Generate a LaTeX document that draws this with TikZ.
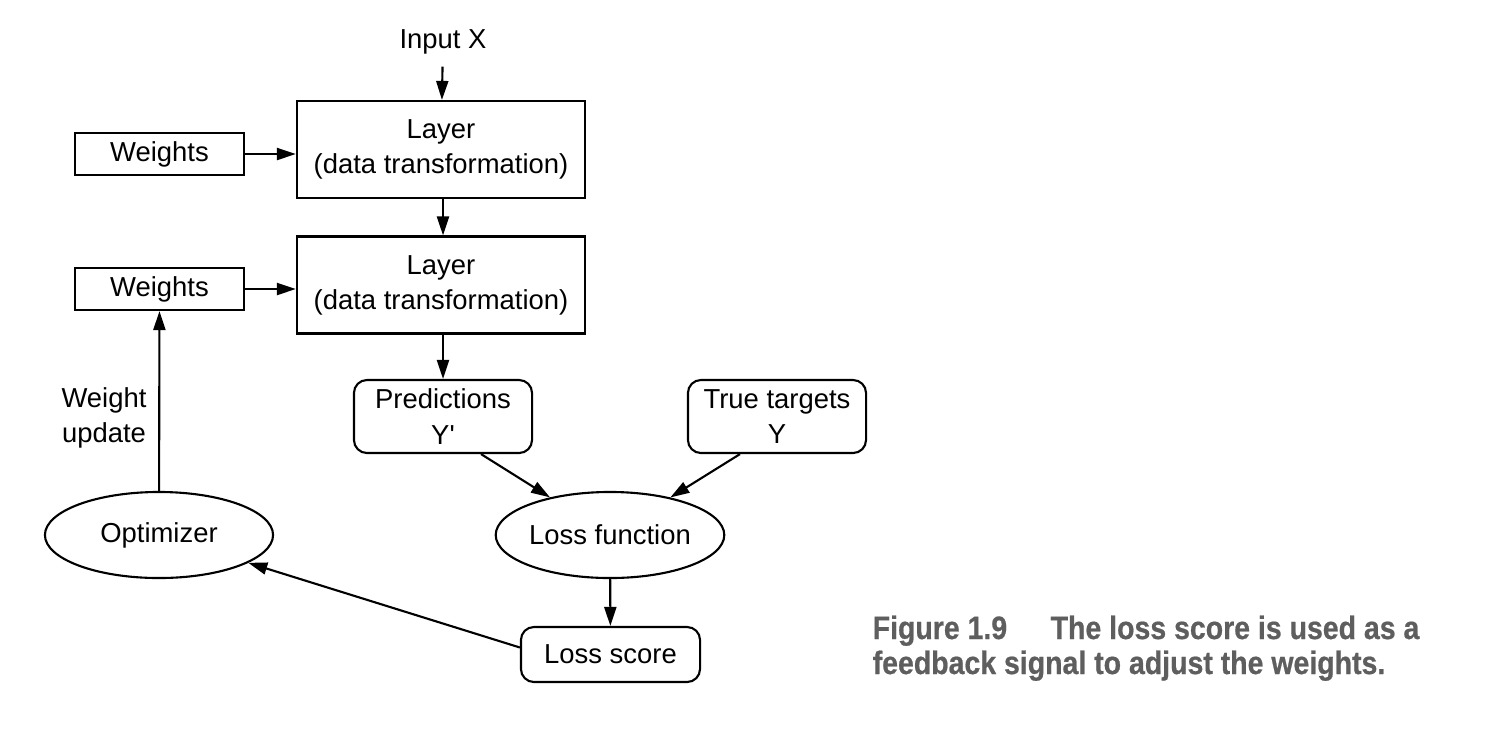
\documentclass[tikz,border=0pt]{standalone}
\usepackage{fontspec}
\setmainfont{Liberation Sans}
\newfontfamily\capfont[FakeStretch=0.88, FakeBold=0.6]{Liberation Sans Bold}
\usetikzlibrary{calc}
\usetikzlibrary{shapes.geometric}
\usetikzlibrary{arrows.meta}

\definecolor{capgray}{HTML}{5E5E5E}
\tikzset{
	every node/.style={font=\fontsize{7.8}{10}\selectfont},
	layerbox/.style={draw, line width=0.6pt, minimum width=2.88cm, minimum height=0.97cm, align=center, inner sep=0pt},
	wbox/.style={draw, line width=0.6pt, minimum width=1.69cm, minimum height=0.42cm, inner sep=0pt},
	rbox/.style={draw, line width=0.6pt, rounded corners=0.13cm, minimum width=1.78cm, align=center, inner sep=0pt},
	oval/.style={draw, ellipse, line width=0.6pt, minimum width=2.28cm, minimum height=0.86cm, inner sep=0pt},
	arr/.style={line width=0.6pt, -{Triangle[length=0.19cm, width=0.12cm]}},
	captxt/.style={font=\fontsize{9.2}{10}\selectfont\capfont, text=capgray, inner sep=0pt}
}

\begin{document}
\begin{tikzpicture}[x=0.01cm, y=-0.01cm]
				\useasboundingbox[fill=white] (0, 0) rectangle (1506, 730);

				\node(inx) at (443, 42) {Input X};
				\node[layerbox](lay1) at (441, 149.5) {Layer\\(data transformation)};
				\node[layerbox](lay2) at (441, 285) {Layer\\(data transformation)};
				\node[wbox](w1) at (159.5, 154) {Weights};
				\node[wbox](w2) at (159.5, 289) {Weights};
				\node[rbox, minimum height=0.73cm](pred) at (443, 416.5) {Predictions\\Y\textquotesingle};
				\node[rbox, minimum height=0.73cm](targ) at (777, 416.5) {True targets\\Y};
				\node[oval](lossf) at (610, 535) {Loss function};
				\node[oval](opt) at (159, 535) {Optimizer};
				\node[rbox, minimum height=0.55cm, minimum width=1.79cm](lscore) at (610.5, 654.5) {Loss score};
				\node[align=center](upd) at (104, 418) {Weight\\update};

				\draw[arr] (inx) -- (lay1);
				\draw[arr] (w1) -- (w1 -| lay1.west);
				\draw[arr] (w2) -- (w2 -| lay2.west);
				\draw[arr] (lay1.south -| inx) -- (lay2.north -| inx);
				\draw[arr] (lay2.south -| inx) -- (pred);
				\draw[arr] ([xshift=0.38cm]pred.south) -- (lossf);
				\draw[arr] ([xshift=-0.37cm]targ.south) -- (lossf);
				\draw[arr] (lossf) -- (lscore);
				\draw[arr] ([yshift=0.07cm]lscore.west) -- (opt);
				\draw[arr] (opt) -- (w2);

				\node[captxt, anchor=base west](cap1) at (872, 639) {Figure 1.9\hspace{1.1em} The loss score is used as a};
				\node[captxt, anchor=base west](cap2) at (872, 674) {feedback signal to adjust the weights.};

			\end{tikzpicture}
\end{document}
